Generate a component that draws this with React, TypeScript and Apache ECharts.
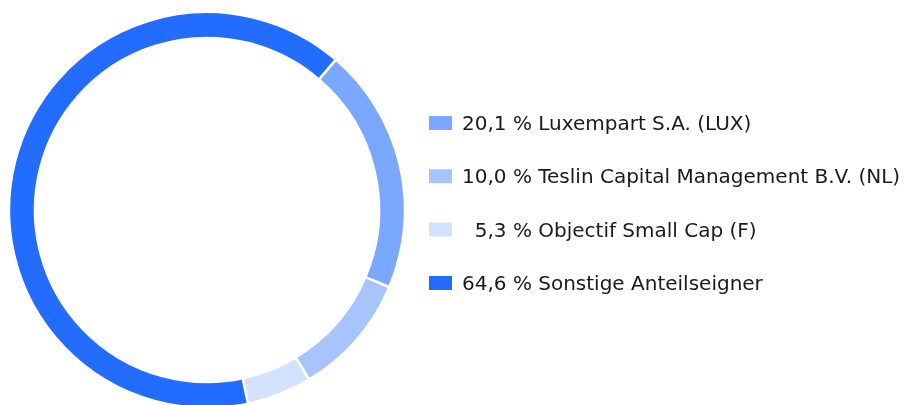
import React, { useEffect, useRef } from "react";
import * as echarts from "echarts";

const names = [
  "Luxempart S.A. (LUX)",
  "Teslin Capital Management B.V. (NL)",
  "Objectif Small Cap (F)",
  "Sonstige Anteilseigner",
];
const values = [20.1, 10.0, 5.3, 64.6];
const valueLabels = ["20,1 %", "10,0 %", "\u20075,3 %", "64,6 %"];
const colors = ["#7AA7FF", "#A7C4FF", "#D3E2FF", "#226CFF"];

export default function App() {
  const ref = useRef<HTMLDivElement>(null);
  useEffect(() => {
    if (!ref.current) return;
    const chart = echarts.init(ref.current, undefined, { renderer: "svg" });
    const data = names.map((n, i) => ({
      name: n,
      value: values[i],
      itemStyle: { color: colors[i] },
    }));
    chart.setOption({
      animation: false,
      legend: {
        orient: "vertical",
        left: 427,
        top: 113,
        padding: 0,
        itemWidth: 25,
        itemHeight: 16,
        itemGap: 33.3,
        icon: "rect",
        selectedMode: false,
        textStyle: {
          fontFamily: "DejaVu Sans",
          fontSize: 20,
          color: "#1a1a1a",
          padding: [0, 0, 0, 4],
        },
        formatter: (name: string) => {
          const i = names.indexOf(name);
          return valueLabels[i] + " " + name;
        },
        data: names,
      },
      series: [
        {
          type: "pie",
          center: [207, 210],
          radius: [172, 198],
          startAngle: 49.4,
          clockwise: true,
          label: { show: false },
          labelLine: { show: false },
          silent: true,
          itemStyle: { borderColor: "#ffffff", borderWidth: 2.5 },
          data,
        },
      ],
    });
    return () => chart.dispose();
  }, []);
  return (
    <div
      ref={ref}
      style={{ position: "fixed", left: 0, top: 0, width: 910, height: 405 }}
    />
  );
}
